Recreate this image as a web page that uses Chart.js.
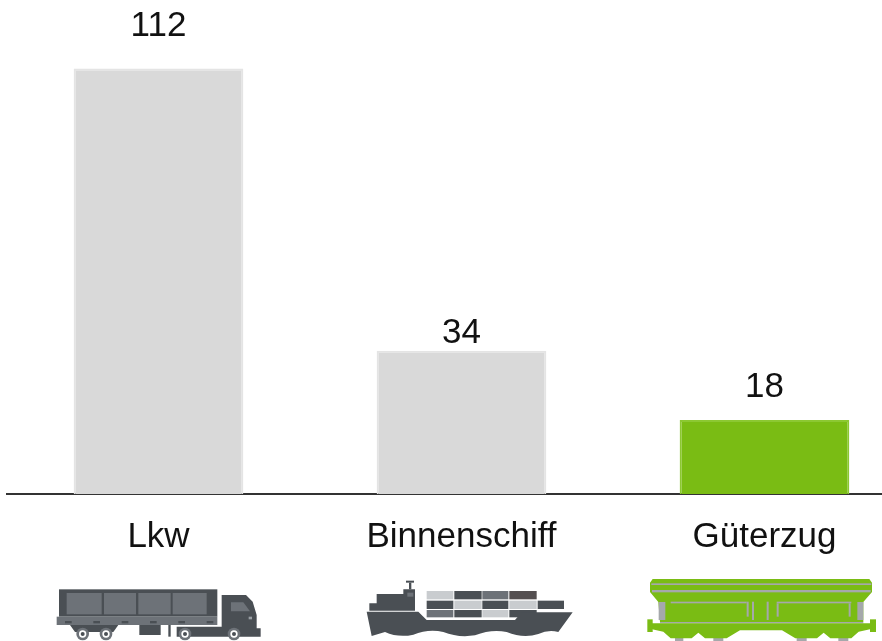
<!DOCTYPE html>
<html lang="de">
<head>
    <meta charset="UTF-8">
    <title>Transportmittel</title>
    <script src="https://cdnjs.cloudflare.com/ajax/libs/Chart.js/4.4.1/chart.umd.min.js"></script>
    <style>
        html, body { margin: 0; padding: 0; background: #fff; overflow: hidden; }
        #frame { width: 882px; height: 641px; overflow: hidden; }
        /* the last category runs past the right edge in the source, so the chart is wider than the window */
        #chartBox { position: relative; width: 916px; height: 641px; }
    </style>
</head>
<body>
    <div id="frame"><div id="chartBox"><canvas id="barChart"></canvas></div></div>
    <script>
        const categories = ['Lkw', 'Binnenschiff', 'Güterzug'];
        // the printed numbers
        const valueLabels = ['112', '34', '18'];
        // bar heights as measured in the picture, the source does not draw them to scale with the labels
        const barHeights = [112, 37.7, 19.5];
        const barColors = ['#d9d9d9', '#d9d9d9', '#7abc14'];
        const barEdges = ['#e4e4e4', '#e4e4e4', '#8cc832'];
        // distance from bar top to the middle of its number, differs per bar in the source
        const labelGaps = [42, 17, 33];

        const font = 'Arial, "Liberation Sans", sans-serif';

        function poly(ctx, color, pts) {
            ctx.fillStyle = color;
            ctx.beginPath();
            pts.forEach((p, i) => i ? ctx.lineTo(p[0], p[1]) : ctx.moveTo(p[0], p[1]));
            ctx.closePath();
            ctx.fill();
        }

        function box(ctx, color, x0, y0, x1, y1) {
            ctx.fillStyle = color;
            ctx.fillRect(x0, y0, x1 - x0, y1 - y0);
        }

        function wheel(ctx, x, y) {
            ctx.fillStyle = '#6d7278';
            ctx.beginPath(); ctx.arc(x, y, 19, 0, Math.PI * 2); ctx.fill();
            ctx.fillStyle = '#fff';
            ctx.beginPath(); ctx.arc(x, y, 11, 0, Math.PI * 2); ctx.fill();
            ctx.fillStyle = '#4a4f54';
            ctx.beginPath(); ctx.arc(x, y, 6, 0, Math.PI * 2); ctx.fill();
        }

        // icons are drawn in the 3x coordinates of the crops, see ox/oy below
        function drawTruck(ctx) {
            const dark = '#4a4f54', mid = '#6d7278';
            box(ctx, dark, 87, 58, 562, 140);
            [[110, 215], [222, 318], [325, 422], [428, 530]].forEach(p => box(ctx, mid, p[0], 69, p[1], 133));
            box(ctx, mid, 80, 140, 562, 165);
            [115, 200, 285, 370, 455, 540].forEach(x => box(ctx, dark, x - 10, 153, x + 10, 160));
            poly(ctx, dark, [[120, 165], [265, 165], [250, 186], [135, 186]]);
            box(ctx, dark, 328, 165, 392, 195);
            box(ctx, dark, 415, 165, 422, 200);
            poly(ctx, dark, [[575, 75], [648, 75], [668, 95], [680, 135], [680, 175], [692, 175], [692, 200],
                [440, 200], [440, 170], [575, 170]]);
            poly(ctx, mid, [[603, 97], [640, 97], [660, 124], [603, 124]]);
            box(ctx, '#9aa0a5', 656, 140, 666, 148);
            [158, 228, 465, 612].forEach(x => wheel(ctx, x, 192));
        }

        function drawShip(ctx) {
            const dark = '#4a4f54', mid = '#6d7278', light = '#c9cccf', brown = '#544f50';
            box(ctx, dark, 168, 32, 192, 38);
            box(ctx, dark, 177, 38, 184, 58);
            poly(ctx, dark, [[58, 122], [58, 100], [80, 100], [80, 72], [160, 72], [160, 58], [195, 58], [195, 122]]);
            box(ctx, mid, 172, 68, 190, 80);
            const cols = [[230, 310], [313, 395], [397, 475], [478, 560], [563, 642]];
            const rows = [[63, 88], [92, 117], [120, 142]];
            const grid = [
                [light, dark, mid, brown, null],
                [dark, light, dark, light, dark],
                [mid, dark, light, dark, null]
            ];
            grid.forEach((row, r) => row.forEach((c, i) => {
                if (c) box(ctx, c, cols[i][0], rows[r][0], cols[i][1], rows[r][1]);
            }));
            ctx.fillStyle = dark;
            ctx.beginPath();
            ctx.moveTo(50, 125);
            ctx.lineTo(205, 125);
            ctx.lineTo(230, 150);
            ctx.lineTo(495, 150);
            ctx.lineTo(515, 127);
            ctx.lineTo(668, 127);
            ctx.lineTo(625, 186);
            ctx.quadraticCurveTo(595, 178, 565, 192);
            ctx.quadraticCurveTo(520, 206, 470, 186);
            ctx.quadraticCurveTo(425, 176, 375, 196);
            ctx.quadraticCurveTo(325, 204, 280, 186);
            ctx.quadraticCurveTo(235, 176, 190, 194);
            ctx.quadraticCurveTo(145, 204, 105, 186);
            ctx.lineTo(65, 198);
            ctx.closePath();
            ctx.fill();
        }

        function drawTrain(ctx) {
            const green = '#7abc14', grey = '#a5a8ab';
            [[135, 160], [250, 280], [500, 530], [625, 655]].forEach(p => box(ctx, grey, p[0], 200, p[1], 213));
            poly(ctx, green, [[68, 27], [718, 27], [726, 38], [726, 66], [700, 96], [700, 156], [90, 156], [85, 96], [60, 66], [60, 38]]);
            box(ctx, grey, 64, 40, 724, 45);
            box(ctx, grey, 66, 60, 722, 67);
            box(ctx, grey, 86, 96, 106, 150);
            box(ctx, grey, 682, 96, 700, 150);
            box(ctx, grey, 122, 95, 350, 100);
            box(ctx, grey, 440, 95, 664, 100);
            box(ctx, grey, 350, 95, 356, 140);
            box(ctx, grey, 366, 95, 372, 150);
            box(ctx, grey, 410, 95, 416, 150);
            box(ctx, grey, 440, 100, 446, 140);
            box(ctx, grey, 656, 100, 662, 140);
            box(ctx, grey, 90, 156, 700, 160);
            poly(ctx, green, [[66, 160], [720, 160], [720, 178], [686, 185], [664, 205], [601, 205], [581, 188], [561, 205], [496, 205],
                [456, 181], [330, 181], [290, 205], [225, 205], [205, 188], [185, 205], [122, 205], [100, 185], [66, 178]]);
            box(ctx, green, 52, 148, 68, 186);
            box(ctx, green, 720, 148, 738, 186);
        }

        const icons = [
            { draw: drawTruck, ox: 30 - 158.5, oy: 570 },
            { draw: drawShip, ox: 350 - 461.5, oy: 570 },
            { draw: drawTrain, ox: 630 - 764.5, oy: 570 }
        ];

        const extrasPlugin = {
            id: 'extras',
            afterDraw(chart) {
                const ctx = chart.ctx;
                ctx.save();
                ctx.fillStyle = '#111';
                ctx.font = '35px ' + font;
                ctx.textAlign = 'center';
                ctx.textBaseline = 'middle';
                chart.getDatasetMeta(0).data.forEach((bar, i) => {
                    ctx.fillText(valueLabels[i], bar.x, bar.y - labelGaps[i]);
                });
                icons.forEach((icon, i) => {
                    ctx.save();
                    ctx.translate(chart.scales.x.getPixelForValue(i) + icon.ox, icon.oy);
                    ctx.scale(1 / 3, 1 / 3);
                    icon.draw(ctx);
                    ctx.restore();
                });
                ctx.restore();
            }
        };

        new Chart(document.getElementById('barChart'), {
            type: 'bar',
            data: {
                labels: categories,
                datasets: [{
                    data: barHeights,
                    backgroundColor: barColors,
                    borderColor: barEdges,
                    borderWidth: 2,
                    borderSkipped: 'bottom',
                    barPercentage: 0.56,
                    categoryPercentage: 1
                }]
            },
            options: {
                responsive: true,
                maintainAspectRatio: false,
                animation: false,
                layout: { padding: { left: 7, right: 0, top: 0, bottom: 0 } },
                plugins: { legend: { display: false }, tooltip: { enabled: false } },
                scales: {
                    x: {
                        grid: { display: false, drawTicks: false },
                        border: { color: '#333', width: 2 },
                        ticks: { color: '#111', padding: 22, maxRotation: 0, autoSkip: false, font: { family: font, size: 35 } },
                        afterFit(scale) { scale.height = 147; }
                    },
                    y: { display: false, min: 0, max: 130 }
                }
            },
            plugins: [extrasPlugin]
        });
    </script>
</body>
</html>
